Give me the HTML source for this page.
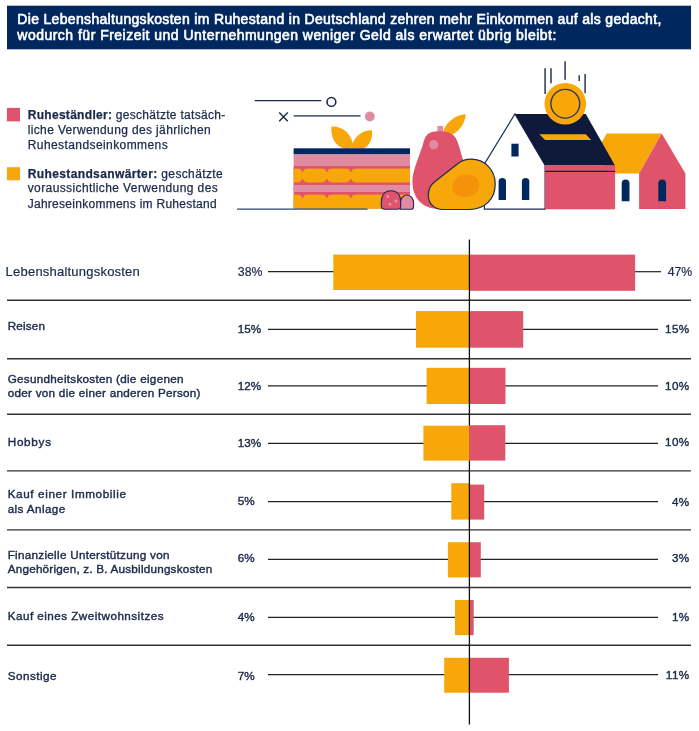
<!DOCTYPE html>
<html lang="de"><head><meta charset="utf-8"><title>Lebenshaltungskosten im Ruhestand</title>
<style>html,body{margin:0;padding:0;background:#fff;overflow:hidden}svg{display:block}text{font-family:"Liberation Sans",sans-serif}</style></head><body>
<svg width="699" height="731" viewBox="0 0 699 731">
<rect width="699" height="731" fill="#fff"/>
<rect x="7" y="5.7" width="684" height="43.6" fill="#00285f"/>
<text x="17.3" y="24.3" font-size="14" font-weight="400" stroke="#fff" stroke-width="0.6" fill="#fff" textLength="644" lengthAdjust="spacing">Die Lebenshaltungskosten im Ruhestand in Deutschland zehren mehr Einkommen auf als gedacht,</text>
<text x="17.3" y="40.3" font-size="14" font-weight="400" stroke="#fff" stroke-width="0.6" fill="#fff" textLength="539" lengthAdjust="spacing">wodurch für Freizeit und Unternehmungen weniger Geld als erwartet übrig bleibt:</text>
<rect x="6.9" y="107.9" width="13.1" height="13.5" fill="#df546b"/>
<rect x="6.9" y="167.2" width="13.1" height="13.1" fill="#f7a70a"/>
<text x="27.7" y="119.4" font-size="12" fill="#1b2a4a" stroke="#1b2a4a" stroke-width="0.25" textLength="197.5" lengthAdjust="spacing"><tspan font-weight="700">Ruheständler:</tspan> geschätzte tatsäch-</text>
<text x="27.7" y="134.0" font-size="12" fill="#1b2a4a" stroke="#1b2a4a" stroke-width="0.25" textLength="183" lengthAdjust="spacing">liche Verwendung des jährlichen</text>
<text x="27.7" y="148.8" font-size="12" fill="#1b2a4a" stroke="#1b2a4a" stroke-width="0.25" textLength="140" lengthAdjust="spacing">Ruhestandseinkommens</text>
<text x="27.7" y="178.0" font-size="12" fill="#1b2a4a" stroke="#1b2a4a" stroke-width="0.25" textLength="195" lengthAdjust="spacing"><tspan font-weight="700">Ruhestandsanwärter:</tspan> geschätzte</text>
<text x="27.7" y="192.4" font-size="12" fill="#1b2a4a" stroke="#1b2a4a" stroke-width="0.25" textLength="190" lengthAdjust="spacing">voraussichtliche Verwendung des</text>
<text x="27.7" y="207.5" font-size="12" fill="#1b2a4a" stroke="#1b2a4a" stroke-width="0.25" textLength="189" lengthAdjust="spacing">Jahreseinkommens im Ruhestand</text>
<g id="illustration">
<!-- decorative lines -->
<line x1="254.7" y1="100.7" x2="321.3" y2="100.7" stroke="#1b2a4a" stroke-width="1.3"/>
<circle cx="331.4" cy="101.9" r="4.4" fill="none" stroke="#1b2a4a" stroke-width="1.6"/>
<path d="M279.2 112.6 L287.8 121.2 M287.8 112.6 L279.2 121.2" stroke="#1b2a4a" stroke-width="1.4" fill="none"/>
<line x1="293.6" y1="115.9" x2="360.5" y2="115.9" stroke="#1b2a4a" stroke-width="1.3"/>
<circle cx="369.8" cy="116.5" r="4.9" fill="#e18ba1"/>
<!-- cake leaves -->
<path d="M331.4 126.6 C343 126 352 134 353.5 147 C351 149 346 149 344 148.6 C335 146 330.5 137 331.4 126.6 Z" fill="#f7a70a"/>
<path d="M371.9 130.3 C362 130 353 137 351.5 148.6 L364 148.6 C370 145 373 138 371.9 130.3 Z" fill="#f7a70a"/>
<!-- cake -->
<rect x="293.6" y="148.3" width="116.4" height="6.2" fill="#00285f"/>
<rect x="293.6" y="154.3" width="116.4" height="11.9" fill="#e18ba1"/>
<rect x="293.6" y="166" width="116.4" height="42.6" fill="#df546b"/>
<rect x="293.6" y="168.6" width="116.4" height="13.9" fill="#f7a70a"/>
<rect x="293.6" y="185" width="116.4" height="7" fill="#e18ba1"/>
<rect x="293.6" y="194.6" width="116.4" height="14.0" fill="#f7a70a"/>
<!-- scallop pinches -->
<g fill="#df546b">
<path d="M297.4 168.3 H307.8 V168.6 C304.9 168.6 303.2 170.5 302.6 172.8 C302.0 170.5 300.3 168.6 297.4 168.6 Z"/>
<path d="M297.4 182.8 H307.8 V182.5 C304.9 182.5 303.2 180.6 302.6 178.3 C302.0 180.6 300.3 182.5 297.4 182.5 Z"/>
<path d="M297.4 194.3 H307.8 V194.6 C304.9 194.6 303.2 196.5 302.6 198.8 C302.0 196.5 300.3 194.6 297.4 194.6 Z"/>
<path d="M321.7 168.3 H332.1 V168.6 C329.2 168.6 327.5 170.5 326.9 172.8 C326.3 170.5 324.6 168.6 321.7 168.6 Z"/>
<path d="M321.7 182.8 H332.1 V182.5 C329.2 182.5 327.5 180.6 326.9 178.3 C326.3 180.6 324.6 182.5 321.7 182.5 Z"/>
<path d="M321.7 194.3 H332.1 V194.6 C329.2 194.6 327.5 196.5 326.9 198.8 C326.3 196.5 324.6 194.6 321.7 194.6 Z"/>
<path d="M345.7 168.3 H356.1 V168.6 C353.2 168.6 351.5 170.5 350.9 172.8 C350.3 170.5 348.6 168.6 345.7 168.6 Z"/>
<path d="M345.7 182.8 H356.1 V182.5 C353.2 182.5 351.5 180.6 350.9 178.3 C350.3 180.6 348.6 182.5 345.7 182.5 Z"/>
<path d="M345.7 194.3 H356.1 V194.6 C353.2 194.6 351.5 196.5 350.9 198.8 C350.3 196.5 348.6 194.6 345.7 194.6 Z"/>
</g>
<!-- ground line -->
<line x1="237" y1="209.1" x2="367.6" y2="209.1" stroke="#2a4a80" stroke-width="1.3"/>
<!-- berries -->
<path d="M400.3 209.3 V203 A6.6 8 0 0 1 413.6 203 V206.5 Q413.6 209.3 411 209.3 Z" fill="#e18ba1" stroke="#1b2a5a" stroke-width="1.1"/>
<path d="M384.5 209.3 Q381.3 209.3 381.3 205.5 V202 C381.3 195 385 190.7 391 190.7 C397 190.7 400.7 195 400.7 202 V205.5 Q400.7 209.3 397.5 209.3 Z" fill="#df546b" stroke="#1b2a5a" stroke-width="1.1"/>
<circle cx="387.7" cy="196.5" r="1.5" fill="#ee8fa3"/>
<circle cx="396" cy="201" r="1.5" fill="#ee8fa3"/>
<circle cx="390" cy="204.3" r="1.4" fill="#ee8fa3"/>
<!-- pear -->
<rect x="437.4" y="125.9" width="5.6" height="7" fill="#e18ba1"/>
<path d="M443.3 131.6 C446 122 456 114.5 465.7 114.3 C465.5 124 458 133 449.5 135.5 Z" fill="#f7a70a"/>
<path d="M440.1 131.2 C445 131.2 451 132 455 137 C458 141 459.3 147.5 462.8 159 C466 169 470 178 470 186 C470 200 458 209 440 209 C425 209 412.4 201 412.4 181 C412.4 172 418 159 422.5 146 C424 141 424.5 137 428 134 C431 131.4 436 131.2 440.1 131.2 Z" fill="#df546b"/>
<circle cx="433.7" cy="144.7" r="4.6" fill="#e18ba1"/>
<!-- house 2 -->
<path d="M606.8 133.4 H661.7 L639.1 173.6 H610 L597 150 Z" fill="#f7a70a"/>
<path d="M639.1 209 V173.6 L661.7 133.4 L685.4 173.4 V209 Z" fill="#df546b"/>
<path d="M621.7 201.2 V183.3 A3.9 3.9 0 0 1 629.5 183.3 V201.2 Z" fill="#00285f"/>
<path d="M658.3 201.2 V183.3 A3.9 3.9 0 0 1 666.1 183.3 V201.2 Z" fill="#00285f"/>
<!-- house 1 -->
<path d="M484.4 209.2 V164 L514.9 114 L545.1 165.3 V209.2 Z" fill="#fff" stroke="#1b2a5a" stroke-width="1.2"/>
<path d="M514.9 114 H585.8 L615 165.6 H545.1 Z" fill="#0f1a3a"/>
<rect x="545.1" y="165.4" width="70" height="43.9" fill="#df546b"/>
<line x1="545.1" y1="171.4" x2="615.1" y2="171.4" stroke="#00285f" stroke-width="1.2"/>
<path d="M539.3 134.2 H585.8 L591.2 140 H545.1 Z" fill="#f7a70a"/>
<rect x="511.4" y="143.7" width="7.2" height="12.8" fill="#00285f"/>
<path d="M498.6 200 V181.6 A3.7 3.7 0 0 1 506 181.6 V200 Z" fill="#00285f"/>
<path d="M521.9 200 V181.6 A3.7 3.7 0 0 1 529.3 181.6 V200 Z" fill="#00285f"/>
<!-- coin -->
<g stroke="#2a3557" stroke-width="1.5" fill="none">
<path d="M545.1 68.2 V94 M551 68.2 V83.2 M565.1 61.2 V79.8 M579.2 75.3 V81 M585.1 74 V93.2"/>
</g>
<circle cx="565.3" cy="103.7" r="20.8" fill="#f7a70a"/>
<circle cx="565.3" cy="103.7" r="14.4" fill="none" stroke="#2a3557" stroke-width="1.3"/>
<!-- avocado -->
<path d="M428.3 195 C428.3 189 430.5 185 435 181.5 L458 163.5 C462 160.5 466 159.2 471 159.2 C485 159.2 495.2 170 495.2 184 C495.2 199 485 209.5 469 209.5 H443 C434 209.5 428.3 203.5 428.3 195 Z" fill="#f7a70a" stroke="#1b2a5a" stroke-width="1.2"/>
<ellipse cx="466" cy="185.9" rx="13.6" ry="11.3" transform="rotate(-12 466 185.9)" fill="#f5920a"/>
</g>

<line x1="7" y1="300.2" x2="691" y2="300.2" stroke="#333" stroke-width="1.4"/>
<line x1="7" y1="358.7" x2="691" y2="358.7" stroke="#333" stroke-width="1.4"/>
<line x1="7" y1="414.3" x2="691" y2="414.3" stroke="#333" stroke-width="1.4"/>
<line x1="7" y1="470.9" x2="691" y2="470.9" stroke="#333" stroke-width="1.4"/>
<line x1="7" y1="529.9" x2="691" y2="529.9" stroke="#333" stroke-width="1.4"/>
<line x1="7" y1="587.5" x2="691" y2="587.5" stroke="#333" stroke-width="1.4"/>
<line x1="7" y1="645.2" x2="691" y2="645.2" stroke="#333" stroke-width="1.4"/>
<line x1="268" y1="271.7" x2="334.3" y2="271.7" stroke="#222" stroke-width="1.2"/>
<line x1="634.1" y1="271.7" x2="661" y2="271.7" stroke="#222" stroke-width="1.2"/>
<rect x="333.3" y="254.6" width="136.4" height="35.4" fill="#f7a70a"/>
<rect x="469.4" y="254.6" width="165.7" height="36.2" fill="#df546b"/>
<line x1="268" y1="329.3" x2="417.0" y2="329.3" stroke="#222" stroke-width="1.2"/>
<line x1="522.2" y1="329.3" x2="658" y2="329.3" stroke="#222" stroke-width="1.2"/>
<rect x="416.0" y="311.1" width="53.7" height="36.6" fill="#f7a70a"/>
<rect x="469.4" y="311.1" width="53.8" height="36.6" fill="#df546b"/>
<line x1="268" y1="385.8" x2="427.6" y2="385.8" stroke="#222" stroke-width="1.2"/>
<line x1="504.5" y1="385.8" x2="658" y2="385.8" stroke="#222" stroke-width="1.2"/>
<rect x="426.6" y="367.8" width="43.1" height="36.2" fill="#f7a70a"/>
<rect x="469.4" y="367.8" width="36.1" height="36.2" fill="#df546b"/>
<line x1="268" y1="443.4" x2="424.4" y2="443.4" stroke="#222" stroke-width="1.2"/>
<line x1="504.3" y1="443.4" x2="658" y2="443.4" stroke="#222" stroke-width="1.2"/>
<line x1="268" y1="501.7" x2="452.3" y2="501.7" stroke="#222" stroke-width="1.2"/>
<line x1="483.2" y1="501.7" x2="658" y2="501.7" stroke="#222" stroke-width="1.2"/>
<rect x="451.3" y="483.2" width="18.4" height="36.4" fill="#f7a70a"/>
<rect x="469.4" y="484.6" width="14.8" height="35.0" fill="#df546b"/>
<line x1="268" y1="559.4" x2="448.9" y2="559.4" stroke="#222" stroke-width="1.2"/>
<line x1="479.8" y1="559.4" x2="658" y2="559.4" stroke="#222" stroke-width="1.2"/>
<rect x="447.9" y="542.2" width="21.8" height="35.2" fill="#f7a70a"/>
<rect x="469.4" y="542.2" width="11.4" height="35.2" fill="#df546b"/>
<line x1="268" y1="617.3" x2="456.0" y2="617.3" stroke="#222" stroke-width="1.2"/>
<line x1="472.7" y1="617.3" x2="658" y2="617.3" stroke="#222" stroke-width="1.2"/>
<rect x="455.0" y="600.0" width="14.7" height="35.1" fill="#f7a70a"/>
<rect x="469.4" y="600.0" width="4.3" height="35.1" fill="#df546b"/>
<line x1="268" y1="674.6" x2="445.2" y2="674.6" stroke="#222" stroke-width="1.2"/>
<line x1="507.9" y1="674.6" x2="658" y2="674.6" stroke="#222" stroke-width="1.2"/>
<rect x="444.2" y="657.8" width="25.5" height="34.9" fill="#f7a70a"/>
<rect x="469.4" y="657.8" width="39.5" height="34.9" fill="#df546b"/>
<line x1="469.4" y1="239.4" x2="469.4" y2="724.6" stroke="#111" stroke-width="1.3"/>
<rect x="423.4" y="425.7" width="46.3" height="34.9" fill="#f7a70a"/>
<rect x="469.4" y="425.2" width="35.9" height="35.4" fill="#df546b"/>
<text x="5.6" y="275.8" font-size="13" font-weight="400" fill="#1b2a4a" stroke="#1b2a4a" stroke-width="0.2" textLength="134.2" lengthAdjust="spacing">Lebenshaltungskosten</text>
<text x="237.8" y="275.6" font-size="12.3" fill="#1b2a4a" stroke="#1b2a4a" stroke-width="0.2">38%</text>
<text x="692.3" y="275.6" font-size="12.3" fill="#1b2a4a" stroke="#1b2a4a" stroke-width="0.2" text-anchor="end">47%</text>
<text x="7.7" y="329.8" font-size="11.7" font-weight="400" fill="#1b2a4a" stroke="#1b2a4a" stroke-width="0.4" textLength="37.3" lengthAdjust="spacing">Reisen</text>
<text x="237.8" y="333.4" font-size="11.7" fill="#1b2a4a" stroke="#1b2a4a" stroke-width="0.4">15%</text>
<text x="689.6" y="333.4" font-size="11.7" fill="#1b2a4a" stroke="#1b2a4a" stroke-width="0.4" letter-spacing="0.4" text-anchor="end">15%</text>
<text x="7.7" y="383.0" font-size="11.7" font-weight="400" fill="#1b2a4a" stroke="#1b2a4a" stroke-width="0.4" textLength="175.8" lengthAdjust="spacing">Gesundheitskosten (die eigenen</text>
<text x="7.7" y="397.1" font-size="11.7" font-weight="400" fill="#1b2a4a" stroke="#1b2a4a" stroke-width="0.4" textLength="192.8" lengthAdjust="spacing">oder von die einer anderen Person)</text>
<text x="237.8" y="389.8" font-size="11.7" fill="#1b2a4a" stroke="#1b2a4a" stroke-width="0.4">12%</text>
<text x="689.6" y="389.5" font-size="11.7" fill="#1b2a4a" stroke="#1b2a4a" stroke-width="0.4" letter-spacing="0.4" text-anchor="end">10%</text>
<text x="7.7" y="446.1" font-size="11.7" font-weight="400" fill="#1b2a4a" stroke="#1b2a4a" stroke-width="0.4" textLength="43.3" lengthAdjust="spacing">Hobbys</text>
<text x="237.8" y="446.6" font-size="11.7" fill="#1b2a4a" stroke="#1b2a4a" stroke-width="0.4">13%</text>
<text x="689.6" y="446.0" font-size="11.7" fill="#1b2a4a" stroke="#1b2a4a" stroke-width="0.4" letter-spacing="0.4" text-anchor="end">10%</text>
<text x="7.7" y="498.1" font-size="11.7" font-weight="400" fill="#1b2a4a" stroke="#1b2a4a" stroke-width="0.4" textLength="118.3" lengthAdjust="spacing">Kauf einer Immobilie</text>
<text x="7.7" y="512.9" font-size="11.7" font-weight="400" fill="#1b2a4a" stroke="#1b2a4a" stroke-width="0.4" textLength="57.5" lengthAdjust="spacing">als Anlage</text>
<text x="237.8" y="505.0" font-size="11.7" fill="#1b2a4a" stroke="#1b2a4a" stroke-width="0.4">5%</text>
<text x="689.6" y="505.8" font-size="11.7" fill="#1b2a4a" stroke="#1b2a4a" stroke-width="0.4" letter-spacing="0.4" text-anchor="end">4%</text>
<text x="7.7" y="559.0" font-size="11.7" font-weight="400" fill="#1b2a4a" stroke="#1b2a4a" stroke-width="0.4" textLength="161.8" lengthAdjust="spacing">Finanzielle Unterstützung von</text>
<text x="7.7" y="573.0" font-size="11.7" font-weight="400" fill="#1b2a4a" stroke="#1b2a4a" stroke-width="0.4" textLength="204.5" lengthAdjust="spacing">Angehörigen, z. B. Ausbildungskosten</text>
<text x="237.8" y="562.3" font-size="11.7" fill="#1b2a4a" stroke="#1b2a4a" stroke-width="0.4">6%</text>
<text x="689.6" y="562.3" font-size="11.7" fill="#1b2a4a" stroke="#1b2a4a" stroke-width="0.4" letter-spacing="0.4" text-anchor="end">3%</text>
<text x="7.7" y="620.3" font-size="11.7" font-weight="400" fill="#1b2a4a" stroke="#1b2a4a" stroke-width="0.4" textLength="155.8" lengthAdjust="spacing">Kauf eines Zweitwohnsitzes</text>
<text x="237.8" y="621.2" font-size="11.7" fill="#1b2a4a" stroke="#1b2a4a" stroke-width="0.4">4%</text>
<text x="689.6" y="621.2" font-size="11.7" fill="#1b2a4a" stroke="#1b2a4a" stroke-width="0.4" letter-spacing="0.4" text-anchor="end">1%</text>
<text x="7.7" y="679.8" font-size="11.7" font-weight="400" fill="#1b2a4a" stroke="#1b2a4a" stroke-width="0.4" textLength="48.9" lengthAdjust="spacing">Sonstige</text>
<text x="237.8" y="679.5" font-size="11.7" fill="#1b2a4a" stroke="#1b2a4a" stroke-width="0.4">7%</text>
<text x="689.6" y="678.6" font-size="11.7" fill="#1b2a4a" stroke="#1b2a4a" stroke-width="0.4" letter-spacing="0.4" text-anchor="end">11%</text>
</svg></body></html>
